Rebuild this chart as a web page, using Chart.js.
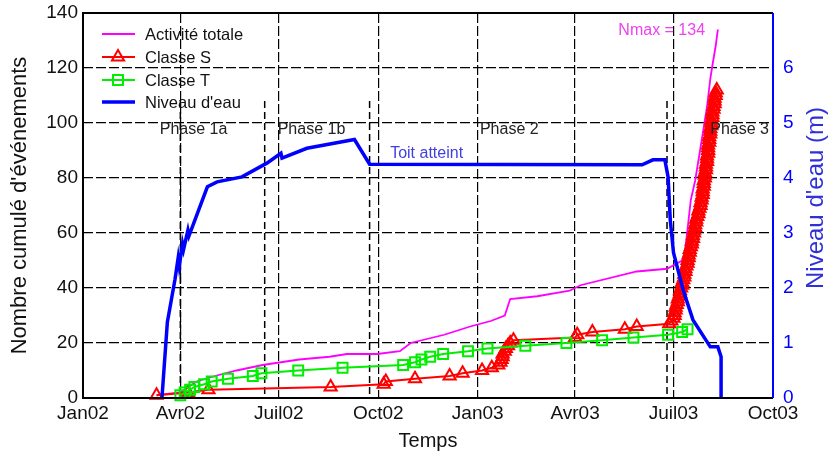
<!DOCTYPE html>
<html>
<head>
<meta charset="utf-8">
<script src="https://cdn.jsdelivr.net/npm/chart.js@4.4.1/dist/chart.umd.min.js"></script>
<style>
html, body { margin: 0; padding: 0; background: #fff; }
</style>
</head>
<body>
<canvas id="graphe" width="830" height="456"></canvas>
<script>
// jours depuis le 01/01/2002
function jour(d) {
    const p = d.split('-');
    return (Date.UTC(+p[0], +p[1] - 1, +p[2]) - Date.UTC(2002, 0, 1)) / 86400000;
}

const moisTicks = ['2002-01-01', '2002-04-01', '2002-07-01', '2002-10-01', '2003-01-01', '2003-04-01', '2003-07-01', '2003-10-01'];
const moisLabels = ['Jan02', 'Avr02', 'Juil02', 'Oct02', 'Jan03', 'Avr03', 'Juil03', 'Oct03'];

// Activité totale (cumul)
const totalDates = ['2002-03-10', '2002-04-01', '2002-04-16', '2002-05-03', '2002-05-23', '2002-06-16', '2002-07-20', '2002-08-17',
    '2002-09-02', '2002-09-30', '2002-10-21', '2002-10-31', '2002-12-01', '2002-12-25', '2003-01-13', '2003-01-26', '2003-01-31',
    '2003-02-25', '2003-03-27', '2003-04-06', '2003-05-28', '2003-06-25', '2003-07-09', '2003-07-11', '2003-07-13', '2003-07-17',
    '2003-07-21', '2003-07-28', '2003-08-01', '2003-08-04', '2003-08-06', '2003-08-09', '2003-08-11'];
const totalVals = [1, 2, 6, 8, 10, 12, 14, 15,
    16, 16, 17, 20, 23, 26, 28, 30, 36,
    37, 39, 41, 46, 47, 50, 52, 58, 72,
    79, 96, 106, 116, 121, 128, 134];

// Classe S : jours avec événements et nombre d'événements ce jour-là (un marqueur par événement)
const sJours = ['2002-03-10', '2002-04-08', '2002-04-27', '2002-08-18', '2002-10-06', '2002-10-08', '2002-11-04', '2002-12-06',
    '2002-12-18', '2003-01-05', '2003-01-14', '2003-01-20', '2003-01-22', '2003-01-23', '2003-01-24', '2003-01-26', '2003-01-27',
    '2003-01-29', '2003-01-31', '2003-02-03', '2003-04-01', '2003-04-03', '2003-04-17', '2003-05-17', '2003-05-28',
    '2003-06-27', '2003-06-29', '2003-07-01', '2003-07-02', '2003-07-03', '2003-07-04', '2003-07-05', '2003-07-06',
    '2003-07-07', '2003-07-08', '2003-07-09', '2003-07-10', '2003-07-11', '2003-07-12', '2003-07-13', '2003-07-14', '2003-07-15',
    '2003-07-16', '2003-07-17', '2003-07-18', '2003-07-19', '2003-07-20', '2003-07-21', '2003-07-22', '2003-07-23', '2003-07-24',
    '2003-07-25', '2003-07-26', '2003-07-27', '2003-07-28', '2003-07-29', '2003-07-30', '2003-07-31', '2003-08-01', '2003-08-02',
    '2003-08-03', '2003-08-04', '2003-08-05', '2003-08-06', '2003-08-07', '2003-08-08', '2003-08-09', '2003-08-10'];
const sNb = [1, 1, 1, 1, 1, 1, 1, 1,
    1, 1, 1, 1, 1, 1, 2, 1, 1,
    1, 1, 1, 1, 1, 1, 1, 1,
    1, 1, 1, 2, 2, 1, 2, 1,
    2, 1, 2, 1, 2, 2, 1, 2, 2,
    2, 1, 2, 2, 2, 2, 2, 1, 2,
    1, 2, 2, 3, 3, 3, 3, 3, 4,
    3, 3, 3, 3, 2, 3, 2, 1];

// Classe T (cumul)
const tDates = ['2002-04-01', '2002-04-05', '2002-04-10', '2002-04-14', '2002-04-23', '2002-04-30', '2002-05-15', '2002-06-07',
    '2002-06-15', '2002-07-19', '2002-08-29', '2002-10-24', '2002-11-04', '2002-11-10', '2002-11-18', '2002-11-30', '2002-12-23',
    '2003-01-10', '2003-02-14', '2003-03-24', '2003-04-26', '2003-05-25', '2003-06-26', '2003-07-09', '2003-07-14'];
const tVals = [1, 2, 3, 4, 5, 6, 7, 8,
    9, 10, 11, 12, 13, 14, 15, 16, 17,
    18, 19, 20, 21, 22, 23, 24, 25];

// Niveau d'eau (m)
const niveauDates = ['2002-03-15', '2002-03-20', '2002-03-27', '2002-03-30', '2002-03-31', '2002-04-03', '2002-04-04', '2002-04-08',
    '2002-04-09', '2002-04-26', '2002-05-05', '2002-05-28', '2002-06-20', '2002-07-03', '2002-07-04', '2002-07-27', '2002-09-09',
    '2002-09-23', '2003-06-02', '2003-06-12', '2003-06-23', '2003-06-26', '2003-06-28', '2003-07-01', '2003-07-10', '2003-07-19',
    '2003-08-04', '2003-08-11', '2003-08-14', '2003-08-14'];
const niveauVals = [0, 1.38, 2.15, 2.55, 2.4, 2.8, 2.7, 3.05,
    2.95, 3.84, 3.93, 4.02, 4.27, 4.45, 4.36, 4.54, 4.70,
    4.25, 4.24, 4.33, 4.33, 4.02, 3.24, 2.64, 1.96, 1.42,
    0.93, 0.93, 0.75, 0];

const phaseDates = ['2002-04-01', '2002-06-18', '2002-09-23', '2003-06-25'];
const phaseHaut = 108;

const textes = [
    { t: 'Phase 1a', d: '2002-03-13', v: 97.5, c: '#222' },
    { t: 'Phase 1b', d: '2002-06-30', v: 97.5, c: '#222' },
    { t: 'Phase 2', d: '2003-01-03', v: 97.5, c: '#222' },
    { t: 'Phase 3', d: '2003-08-04', v: 97.5, c: '#222' },
    { t: 'Toit atteint', d: '2002-10-12', v: 88.7, c: '#4040e0' },
    { t: 'Nmax = 134', d: '2003-05-11', v: 133.5, c: '#f040f0' }
];

function points(dates, vals) {
    return dates.map((d, i) => ({ x: jour(d), y: vals[i] }));
}

function evenements(jours, nb) {
    const pts = [];
    let cumul = 0;
    jours.forEach((d, i) => {
        for (let k = 0; k < nb[i]; k++) {
            cumul += 1;
            pts.push({ x: jour(d), y: cumul });
        }
    });
    return pts;
}

const police = "'Liberation Sans', Arial, Helvetica, sans-serif";
Chart.defaults.font.family = police;

const decor = {
    id: 'decor',
    beforeDatasetsDraw(chart) {
        const ctx = chart.ctx, xs = chart.scales.x, ys = chart.scales.y;
        ctx.save();
        ctx.strokeStyle = '#000';
        ctx.lineWidth = 1.5;
        ctx.setLineDash([7, 4]);
        phaseDates.forEach(d => {
            const x = xs.getPixelForValue(jour(d));
            ctx.beginPath();
            ctx.moveTo(x, ys.getPixelForValue(phaseHaut));
            ctx.lineTo(x, ys.getPixelForValue(0));
            ctx.stroke();
        });
        ctx.restore();
    },
    afterDatasetsDraw(chart) {
        const ctx = chart.ctx, a = chart.chartArea, xs = chart.scales.x, ys = chart.scales.y;
        ctx.save();
        // cadre
        ctx.lineWidth = 2;
        ctx.strokeStyle = '#000';
        ctx.beginPath();
        ctx.moveTo(a.right, a.top); ctx.lineTo(a.left, a.top);
        ctx.lineTo(a.left, a.bottom); ctx.lineTo(a.right, a.bottom);
        ctx.stroke();
        ctx.strokeStyle = '#0000ff';
        ctx.beginPath();
        ctx.moveTo(a.right, a.top); ctx.lineTo(a.right, a.bottom);
        ctx.stroke();

        // textes
        ctx.font = '16px ' + police;
        ctx.textAlign = 'left';
        ctx.textBaseline = 'middle';
        textes.forEach(o => {
            ctx.fillStyle = o.c;
            ctx.fillText(o.t, xs.getPixelForValue(jour(o.d)), ys.getPixelForValue(o.v));
        });

        // légende
        const rows = [34, 57, 80, 102];
        ctx.font = '16.5px ' + police;
        chart.data.datasets.forEach((ds, i) => {
            const y = rows[i];
            ctx.strokeStyle = ds.borderColor;
            ctx.lineWidth = ds.borderWidth;
            ctx.beginPath();
            ctx.moveTo(102, y); ctx.lineTo(135, y);
            ctx.stroke();
            ctx.lineWidth = 2;
            if (ds.pointStyle === 'triangle') {
                const r = 7;
                ctx.beginPath();
                ctx.moveTo(118, y - r);
                ctx.lineTo(118 + r * 0.866, y + r / 2);
                ctx.lineTo(118 - r * 0.866, y + r / 2);
                ctx.closePath();
                ctx.stroke();
            } else if (ds.pointStyle === 'rect') {
                ctx.strokeRect(113, y - 5, 10, 10);
            }
            ctx.fillStyle = '#111';
            ctx.fillText(ds.label, 145, y + 1);
        });

        // titre de l'axe droit
        ctx.translate(816, 198);
        ctx.rotate(-Math.PI / 2);
        ctx.textAlign = 'center';
        ctx.fillStyle = '#3030d8';
        ctx.font = '24px ' + police;
        ctx.fillText("Niveau d'eau (m)", 0, 0);
        ctx.restore();
    }
};

function fixeVertical(largeur) {
    return s => {
        s.width = largeur;
        s.paddingTop = 13;
        s.paddingBottom = 0;
    };
}

const config = {
    type: 'line',
    data: {
        datasets: [{
            label: 'Activité totale',
            data: points(totalDates, totalVals),
            borderColor: '#ff00ff',
            borderWidth: 1.8,
            pointRadius: 0,
            yAxisID: 'y',
            order: 4
        }, {
            label: 'Classe S',
            data: evenements(sJours, sNb),
            borderColor: '#ff0000',
            borderWidth: 2,
            pointStyle: 'triangle',
            pointRadius: 7,
            pointBorderWidth: 2,
            pointBorderColor: '#ff0000',
            pointBackgroundColor: 'rgba(0,0,0,0)',
            yAxisID: 'y',
            clip: false,
            order: 3
        }, {
            label: 'Classe T',
            data: points(tDates, tVals),
            borderColor: '#00ee00',
            borderWidth: 2,
            pointStyle: 'rect',
            pointRadius: 7,
            pointBorderWidth: 2,
            pointBorderColor: '#00ee00',
            pointBackgroundColor: 'rgba(0,0,0,0)',
            yAxisID: 'y',
            clip: false,
            order: 2
        }, {
            label: "Niveau d'eau",
            data: points(niveauDates, niveauVals),
            borderColor: '#0000ff',
            borderWidth: 3.5,
            pointRadius: 0,
            yAxisID: 'y2',
            order: 1
        }]
    },
    options: {
        responsive: false,
        animation: false,
        events: [],
        layout: { padding: 0 },
        plugins: { legend: { display: false }, tooltip: { enabled: false } },
        elements: { line: { tension: 0 } },
        scales: {
            x: {
                type: 'linear',
                min: 0,
                max: jour('2003-10-01'),
                afterBuildTicks: s => { s.ticks = moisTicks.map(d => ({ value: jour(d) })); },
                afterFit: s => { s.height = 58; s.paddingLeft = 0; s.paddingRight = 0; },
                ticks: {
                    autoSkip: false,
                    maxRotation: 0,
                    padding: 4,
                    color: '#111',
                    font: { size: 19 },
                    callback: v => {
                        const i = moisTicks.findIndex(d => jour(d) === v);
                        return i >= 0 ? moisLabels[i] : '';
                    }
                },
                grid: { color: '#000', lineWidth: 1.2, drawTicks: false },
                border: { display: false, dash: [10, 3] },
                title: { display: true, text: 'Temps', color: '#111', font: { size: 20 }, padding: { top: 0, bottom: 3 } }
            },
            y: {
                position: 'left',
                min: 0,
                max: 140,
                afterFit: fixeVertical(83),
                ticks: { stepSize: 20, padding: 5, color: '#111', font: { size: 19 } },
                grid: { color: '#000', lineWidth: 1.2, drawTicks: false },
                border: { display: false, dash: [10, 3] },
                title: { display: true, text: "Nombre cumulé d'événements", color: '#111', font: { size: 22 }, padding: { top: 7, bottom: 0 } }
            },
            y2: {
                position: 'right',
                min: 0,
                max: 7,
                afterFit: fixeVertical(57),
                ticks: {
                    stepSize: 1,
                    padding: 10,
                    color: '#0000ff',
                    font: { size: 19 },
                    callback: v => (v < 7 ? v : '')
                },
                grid: { display: false, drawTicks: false },
                border: { display: false }
            }
        }
    },
    plugins: [decor]
};

const monGraphe = new Chart(document.getElementById('graphe'), config);
</script>
</body>
</html>
